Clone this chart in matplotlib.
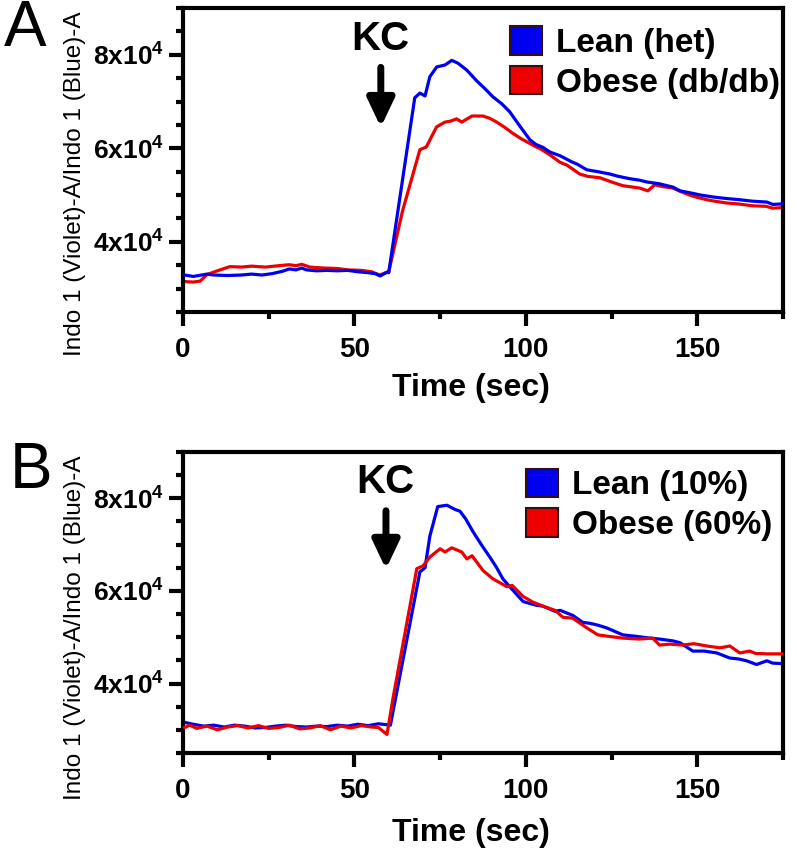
import matplotlib
matplotlib.use("Agg")
import matplotlib.pyplot as plt
import numpy as np
from matplotlib.patches import Patch
from matplotlib.ticker import MultipleLocator, FixedLocator

plt.rcParams['font.family'] = ['Liberation Sans', 'DejaVu Sans']
plt.rcParams['mathtext.fontset'] = 'custom'
plt.rcParams['mathtext.rm'] = 'Liberation Sans:bold'
plt.rcParams['mathtext.bf'] = 'Liberation Sans:bold'
plt.rcParams['mathtext.it'] = 'Liberation Sans:bold'

# ---------------- data (time in s, signal in units of 10^3) ----------------
t_a_lean = [0.5, 3, 7, 9, 13, 17, 20, 23, 26, 29, 31, 33, 34.6, 36, 39, 42, 45, 48, 51, 54, 56, 57.5, 59.5, 60.0,
            67.6, 69.1, 70.6, 72, 74, 76.4, 78.4, 80.2, 82.8, 85.7, 88, 90.4, 93, 95.3, 98, 101.2, 103, 105,
            107, 110, 113.4, 115, 117.8, 121, 124.5, 127, 130.3, 133, 135.3, 139, 142.9, 145, 147.8, 151,
            154.5, 158, 162.4, 166, 170.3, 172, 174.6]
v_a_lean = [32.9, 32.6, 33.1, 32.9, 32.8, 32.9, 33.1, 32.9, 33.2, 33.7, 34.2, 34.0, 34.4, 34.0, 33.8, 33.9, 33.8,
            33.9, 33.6, 33.4, 33.2, 32.7, 33.5, 33.4,
            70.8, 71.8, 71.2, 75.3, 77.4, 77.8, 78.8, 78.2, 76.7, 74.4, 72.8, 71.0, 69.5, 67.8, 65.0, 61.8, 60.8,
            60.2, 59.2, 58.4, 57.1, 56.6, 55.4, 55.0, 54.5, 54.0, 53.5, 53.2, 52.8, 52.4, 51.7, 50.9, 50.5, 50.0,
            49.6, 49.3, 49.0, 48.7, 48.5, 48.0, 48.1]

t_a_obese = [0.5, 3, 5, 7, 10, 13.7, 17, 20, 24, 28, 31, 33, 34.6, 37, 41, 45, 48, 52, 55, 57.4, 59.5, 60.0,
             64, 69.1, 71, 72.5, 74, 76.4, 78, 79.8, 81.3, 84.3, 87.5, 89.5, 91.5, 94, 96, 98.5, 101, 103, 104,
             107, 110, 112, 115.7, 118, 121.6, 125, 128.3, 133.2, 135.6, 137.6, 140, 142.9, 145, 147.8, 150,
             152.8, 155, 158.6, 162, 166.2, 170, 172, 174.6]
v_a_obese = [31.5, 31.4, 31.6, 33.0, 33.8, 34.7, 34.6, 34.8, 34.6, 34.9, 35.1, 34.9, 35.2, 34.6, 34.4, 34.3, 34.0,
             33.9, 33.6, 32.9, 33.5, 33.5,
             46.5, 59.7, 60.3, 62.5, 64.6, 65.6, 65.8, 66.3, 65.6, 66.9, 66.9, 66.4, 65.6, 64.4, 63.3, 62.1, 61.1,
             60.3, 60.0, 58.6, 57.0, 56.4, 54.5, 54.0, 53.7, 52.8, 52.0, 51.5, 50.9, 52.2, 51.8, 51.5, 50.8, 50.0,
             49.5, 49.0, 48.7, 48.3, 48.1, 47.7, 47.6, 47.2, 47.3]

t_b_lean = [0.5, 3, 6, 9, 12, 15, 18, 21, 24, 27, 30, 33, 36, 39, 42, 45, 48, 51, 54, 57, 59.5, 60.5,
            69.1, 70.6, 72, 74.3, 77, 79.3, 80.8, 82.5, 84.5, 87, 89.5, 91.5, 93.3, 95.3, 99.2, 103, 105, 108.5,
            110, 113.7, 116.6, 118.7, 121, 123.6, 128.3, 132, 136.2, 139, 142.9, 145, 148.7, 152, 155.7, 159.5,
            162, 164.4, 167.3, 170.3, 172, 174.6]
v_b_lean = [31.6, 31.2, 30.8, 31.0, 30.6, 31.0, 30.8, 30.4, 30.5, 30.8, 31.0, 30.7, 30.6, 30.8, 30.7, 31.0, 30.8,
            31.2, 30.9, 31.3, 31.1, 31.0,
            64.1, 65.0, 71.8, 78.2, 78.5, 77.6, 77.2, 75.5, 72.9, 70.0, 67.3, 65.0, 62.6, 60.9, 57.7, 56.9, 56.7,
            55.6, 55.8, 54.7, 53.2, 53.0, 52.6, 52.0, 50.5, 50.2, 49.8, 49.6, 49.2, 48.8, 47.0, 47.0, 46.6, 45.5,
            45.3, 44.9, 44.1, 44.9, 44.4, 44.3]

t_b_obese = [0.5, 2, 4, 7, 10, 13, 16, 19, 22, 25, 28, 31, 34, 37, 40, 43, 46, 49, 52, 55, 57, 59.5,
             61.3, 68.2, 70, 72, 75, 76.4, 78.4, 81.3, 82.8, 84.3, 87.5, 90.4, 94.5, 96, 99.2, 102, 105, 108.5,
             110.8, 113.7, 117.8, 121, 124, 128.3, 133, 137, 139, 142, 145.8, 149, 152.8, 156.6, 159.5, 162.4,
             165.3, 167, 170.3, 174.6]
v_b_obese = [30.5, 31.0, 30.3, 30.8, 30.0, 30.6, 30.9, 30.4, 30.9, 30.3, 30.5, 31.0, 30.2, 30.4, 30.9, 30.0, 30.8,
             30.4, 30.9, 30.6, 30.5, 29.0,
             37.0, 64.8, 65.4, 67.3, 69.1, 68.4, 69.3, 68.4, 66.9, 67.6, 64.4, 62.6, 60.9, 61.2, 58.8, 57.6, 56.7,
             55.8, 54.3, 54.1, 52.0, 50.5, 50.2, 49.8, 49.6, 49.8, 48.3, 48.5, 48.3, 48.6, 48.1, 47.7, 48.1, 46.6,
             47.0, 46.5, 46.4, 46.4]

UNIT = 1000.0  # values above are in thousands

labels_a = ['Lean (het)', 'Obese (db/db)']
labels_b = ['Lean (10%)', 'Obese (60%)']
ytick_vals = [40000, 60000, 80000]
ytick_labels = ['4x10$^{4}$', '6x10$^{4}$', '8x10$^{4}$']
xtick_vals = [0, 50, 100, 150]
BLUE = '#0000f0'
RED = '#ee0000'

fig = plt.figure(figsize=(7.97, 8.51), dpi=100)
axA = fig.add_axes([0.2296, 0.6334, 0.7528, 0.3572])
axB = fig.add_axes([0.2296, 0.1152, 0.7528, 0.3537])


def style(ax, labels, leg_anchor, xlab_y, ylab_y):
    for s in ax.spines.values():
        s.set_linewidth(3.0)
    ax.set_xlim(0, 175)
    ax.set_ylim(25000, 90000)
    ax.xaxis.set_major_locator(FixedLocator(xtick_vals))
    ax.xaxis.set_minor_locator(MultipleLocator(25))
    ax.yaxis.set_major_locator(FixedLocator(ytick_vals))
    ax.yaxis.set_minor_locator(MultipleLocator(5000))
    ax.set_yticklabels(ytick_labels)
    ax.tick_params(which='major', length=10, width=3, direction='out', pad=4)
    ax.tick_params(axis='x', which='major', pad=8, labelsize=20)
    ax.tick_params(axis='y', which='major', labelsize=19)
    ax.tick_params(which='minor', length=5, width=3, direction='out')
    for lab in ax.get_xticklabels() + ax.get_yticklabels():
        lab.set_fontweight('bold')
    ax.set_xlabel('Time (sec)', fontsize=23, fontweight='bold')
    ax.xaxis.set_label_coords(0.48, xlab_y)
    ax.set_ylabel('Indo 1 (Violet)-A/Indo 1 (Blue)-A', fontsize=17.5)
    ax.yaxis.set_label_coords(-0.162, ylab_y)
    handles = [Patch(facecolor=BLUE, edgecolor='#301010', linewidth=1.5),
               Patch(facecolor=RED, edgecolor='#301010', linewidth=1.5)]
    ax.legend(handles, labels, loc='upper left', bbox_to_anchor=leg_anchor, frameon=False,
              prop={'weight': 'bold', 'size': 24}, handlelength=0.95, handleheight=0.95,
              handletextpad=0.42, labelspacing=0.2, borderpad=0, borderaxespad=0)


axA.plot(t_a_obese, np.array(v_a_obese) * UNIT, color=RED, lw=2.3, zorder=2)
axA.plot(t_a_lean, np.array(v_a_lean) * UNIT, color=BLUE, lw=2.3, zorder=3)
style(axA, labels_a, (0.545, 0.94), -0.2, 0.421)
axA.text(57.5, 83300, 'KC', fontsize=29, fontweight='bold', ha='center', va='center')
axA.annotate('', xy=(57.7, 64500), xytext=(57.7, 77300),
             arrowprops=dict(arrowstyle='-|>,head_width=0.45,head_length=0.95', color='black', lw=5,
                             mutation_scale=18, shrinkA=0, shrinkB=0))

axB.plot(t_b_lean, np.array(v_b_lean) * UNIT, color=BLUE, lw=2.3, zorder=2)
axB.plot(t_b_obese, np.array(v_b_obese) * UNIT, color=RED, lw=2.3, zorder=3)
style(axB, labels_b, (0.572, 0.945), -0.216, 0.417)
axB.text(59.0, 83600, 'KC', fontsize=29, fontweight='bold', ha='center', va='center')
axB.annotate('', xy=(59.2, 64700), xytext=(59.2, 77300),
             arrowprops=dict(arrowstyle='-|>,head_width=0.45,head_length=0.95', color='black', lw=5,
                             mutation_scale=18, shrinkA=0, shrinkB=0))

fig.text(4 / 797, 1 - 29 / 851, 'A', fontsize=46, ha='left', va='center')
fig.text(10 / 797, 1 - 471 / 851, 'B', fontsize=46, ha='left', va='center')

fig.savefig('out.png', dpi=100)
